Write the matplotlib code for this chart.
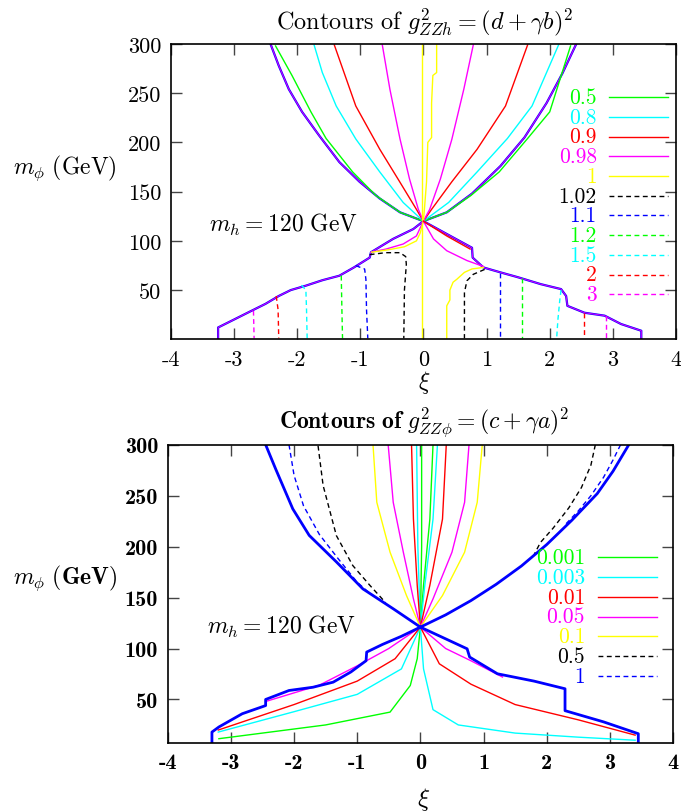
import matplotlib
matplotlib.use("Agg")
import matplotlib.pyplot as plt

plt.rcParams['mathtext.fontset'] = 'cm'
plt.rcParams['axes.unicode_minus'] = False

GREEN, CYAN, RED, MAG, YEL, BLK, BLU = '#00ff00', '#00ffff', '#ff0000', '#ff00ff', '#ffff00', '#000000', '#0000ff'

# ---------------- top panel: contours of g^2_ZZh ----------------
top_levels = ['0.5', '0.8', '0.9', '0.98', '1', '1.02', '1.1', '1.2', '1.5', '2', '3']
top_colors = [GREEN, CYAN, RED, MAG, YEL, BLK, BLU, GREEN, CYAN, RED, MAG]
top_dashed = [False, False, False, False, False, True, True, True, True, True, True]

# boundary of allowed region
tb_ul_xi = [-2.42, -2.29, -2.13, -1.92, -1.65, -1.33, -1.01, -0.69, -0.37, 0.0]
tb_ul_m = [300, 278, 254, 231, 207, 180, 160, 143, 129, 120]
tb_ur_xi = [0.0, 0.37, 0.77, 1.22, 1.6, 1.95, 2.2, 2.42]
tb_ur_m = [120, 129, 148, 176, 205, 240, 270, 300]
tb_ll_xi = [0.0, -0.16, -0.48, -0.83, -0.85, -1.1, -1.33, -1.6, -1.86, -2.1, -2.29, -2.5, -2.77, -3.0, -3.25, -3.25]
tb_ll_m = [120, 112, 102, 88.4, 83, 73, 64.6, 60, 54.5, 50, 44, 36, 27.4, 20, 12, 1]
tb_lr_xi = [0.0, 0.37, 0.77, 0.78, 0.95, 1.22, 1.5, 1.86, 2.18, 2.26, 2.28, 2.55, 2.87, 3.13, 3.45, 3.45]
tb_lr_m = [120, 107, 93, 83, 73, 68, 63, 56, 51, 44, 34, 27, 24, 15.5, 8.7, 1]

# solid contours, upper region
t05_l_xi = [-2.34, -2.08, -1.78, -1.54, -1.12, -0.75, -0.37, 0.0]
t05_l_m = [298, 268, 231, 204, 170, 146, 129, 120]
t05_r_xi = [0.0, 0.37, 0.75, 1.2, 1.65, 2.0, 2.33]
t05_r_m = [120, 129, 146, 170, 204, 231, 298]
t08_l_xi = [-1.73, -1.60, -1.38, -1.07, -0.69, -0.32, 0.0]
t08_l_m = [299, 271, 237, 203.5, 170, 139, 120]
t08_r_xi = [0.0, 0.4, 0.85, 1.33, 1.72, 2.14]
t08_r_m = [120, 139, 170, 204, 237, 299]
t09_l_xi = [-1.41, -1.07, -0.69, -0.37, -0.11, 0.0]
t09_l_m = [299, 237, 193, 159.5, 132, 120]
t09_r_xi = [0.0, 0.13, 0.45, 0.85, 1.3, 1.65]
t09_r_m = [120, 132, 160, 193, 237, 299]
t098_l_xi = [-0.65, -0.53, -0.37, -0.22, -0.08, 0.0]
t098_l_m = [299, 254, 203.5, 163, 132, 120]
t098_r_xi = [0.0, 0.1, 0.27, 0.45, 0.64, 0.79]
t098_r_m = [120, 132, 163, 203, 254, 299]
t1_c_xi = [-0.02, -0.02]
t1_c_m = [1, 300]
t1_r_xi = [0.21, 0.21, 0.15, 0.13, 0.13, 0.07, 0.05, 0.02, 0.0]
t1_r_m = [300, 271, 268, 240, 205, 200, 160, 135, 120]

# solid contours, lower region near the crossing
t098_ll_xi = [0.0, -0.11, -0.32, -0.59, -0.83]
t098_ll_m = [120, 105, 96.8, 91.7, 88.4]
t1_ll_xi = [0.0, -0.05, -0.11, -0.3, -0.55, -0.82]
t1_ll_m = [120, 108, 100, 94, 91, 88.5]
t098_lr_xi = [0.0, 0.16, 0.37, 0.69, 0.95]
t098_lr_m = [120, 102, 90, 80, 74]
t09_lr_xi = [0.0, 0.37, 0.74]
t09_lr_m = [120, 105, 91.7]
t1_lr_xi = [0.37, 0.37, 0.42, 0.42, 0.47, 0.53, 0.65, 0.77, 0.95]
t1_lr_m = [1, 34, 40, 50, 58, 61, 68, 71.5, 73]

# dashed contours, lower region
t102_l_xi = [-0.85, -0.6, -0.37, -0.28, -0.27, -0.30, -0.31]
t102_l_m = [86, 88, 88, 84, 76, 50, 1]
t102_r_xi = [0.97, 0.79, 0.69, 0.65, 0.65]
t102_r_m = [71, 66, 59.5, 47.7, 1]
t11_l_xi = [-1.07, -0.93, -0.91, -0.9, -0.88]
t11_l_m = [74.8, 71.4, 61, 30, 1]
t11_r_xi = [1.21, 1.21]
t11_r_m = [67, 1]
t12_l_xi = [-1.30, -1.29, -1.28]
t12_l_m = [64.6, 30, 1]
t12_r_xi = [1.56, 1.56]
t12_r_m = [62, 1]
t15_l_xi = [-1.93, -1.86, -1.85, -1.84]
t15_l_m = [55, 50, 30, 1]
t15_r_xi = [2.18, 2.16, 2.13, 2.11]
t15_r_m = [50, 40, 20, 1]
t2_l_xi = [-2.33, -2.30, -2.29]
t2_l_m = [44, 30, 1]
t2_r_xi = [2.55, 2.55]
t2_r_m = [27, 1]
t3_l_xi = [-2.69, -2.68]
t3_l_m = [29, 1]
t3_r_xi = [2.89, 2.89]
t3_r_m = [24, 1]

# ---------------- bottom panel: contours of g^2_ZZphi ----------------
bot_levels = ['0.001', '0.003', '0.01', '0.05', '0.1', '0.5', '1']
bot_colors = [GREEN, CYAN, RED, MAG, YEL, BLK, BLU]
bot_dashed = [False, False, False, False, False, True, True]

bb_ul_xi = [-2.45, -2.29, -2.02, -1.76, -1.33, -0.91, -0.43, 0.0]
bb_ul_m = [300, 276, 237, 211, 185, 158.5, 139, 121]
bb_ur_xi = [0.0, 0.4, 0.8, 1.2, 1.6, 2.0, 2.4, 2.8, 3.05, 3.3]
bb_ur_m = [121, 133, 147, 163, 181, 202, 226, 252, 274, 300]
bb_ll_xi = [0.0, -0.3, -0.6, -0.85, -0.86, -1.1, -1.38, -1.7, -2.08, -2.45, -2.45, -2.82, -3.19, -3.3, -3.3]
bb_ll_m = [121, 112, 104, 96.5, 88, 77, 67, 62, 58.8, 50, 44, 36, 23, 18, 7]
bb_lr_xi = [0.0, 0.74, 0.78, 1.22, 1.8, 2.29, 2.29, 2.9, 3.45, 3.45]
bb_lr_m = [121, 99.7, 91.6, 75.2, 68, 60.5, 39, 28, 16.4, 7]

b1_l_xi = [-2.08, -2.0, -1.85, -1.6, -1.3, -1.0, -0.8]
b1_l_m = [300, 270, 240, 212, 188, 165, 154]
b1_r_xi = [3.17, 3.05, 2.9, 2.7, 2.5, 2.3]
b1_r_m = [300, 285, 268, 250, 235, 222]
b05_l_xi = [-1.62, -1.54, -1.33, -1.07, -0.80, -0.55]
b05_l_m = [299, 260, 210.8, 181.4, 162, 145]
b05_r_xi = [2.77, 2.7, 2.55, 2.35, 2.1, 1.9, 1.8]
b05_r_m = [300, 280, 258, 238, 218, 204, 192]
b01_l_xi = [-0.75, -0.69, -0.48, -0.22, 0.0]
b01_l_m = [300, 243.5, 194.5, 152, 121]
b01_r_xi = [0.98, 0.9, 0.7, 0.35, 0.0]
b01_r_m = [300, 243.5, 194.5, 152, 121]
b005_l_xi = [-0.51, -0.43, -0.27, -0.11, 0.0]
b005_l_m = [300, 243.5, 194.5, 148.7, 121]
b005_r_xi = [0.77, 0.7, 0.5, 0.2, 0.0]
b005_r_m = [300, 243.5, 194.5, 148.7, 121]
b001_l_xi = [-0.14, -0.11, -0.05, 0.0]
b001_l_m = [300, 227, 162, 121]
b001_r_xi = [0.41, 0.35, 0.15, 0.0]
b001_r_m = [300, 227, 162, 121]
b0003_l_xi = [-0.06, -0.04, 0.0]
b0003_l_m = [300, 200, 121]
b0003_r_xi = [0.27, 0.2, 0.07, 0.0]
b0003_r_m = [300, 227, 162, 121]
b0001_l_xi = [0.02, 0.02, 0.0]
b0001_l_m = [300, 200, 121]
b0001_r_xi = [0.2, 0.15, 0.05, 0.0]
b0001_r_m = [300, 227, 162, 121]

# lower region
b0001_ll_xi = [0.0, -0.05, -0.16, -0.48, -1.5, -3.19]
b0001_ll_m = [121, 90, 63.7, 37.6, 25, 11.5]
b0003_ll_xi = [0.0, -0.3, -1.0, -2.0, -3.2]
b0003_ll_m = [121, 80, 55, 38, 18]
b001_ll_xi = [0.0, -0.4, -1.0, -2.0, -3.2]
b001_ll_m = [121, 90, 68, 45, 20]
b005_ll_xi = [0.0, -0.5, -1.0, -1.6, -2.45]
b005_ll_m = [121, 100, 83, 64, 48]
b0003_lr_xi = [0.0, 0.05, 0.2, 0.6, 1.5, 2.5, 3.4]
b0003_lr_m = [121, 80, 40, 25, 17, 13, 10]
b001_lr_xi = [0.0, 0.3, 0.8, 1.5, 2.5, 3.4]
b001_lr_m = [121, 85, 65, 45, 30, 15]
b005_lr_xi = [0.0, 0.4, 0.8, 1.3]
b005_lr_m = [121, 100, 88, 72]


def draw(ax, xs, ms, color, dashed=False, lw=1.0):
    if dashed:
        ax.plot(xs, ms, color=color, lw=lw, dashes=(3.5, 2.5))
    else:
        ax.plot(xs, ms, color=color, lw=lw)


def style_axes(ax, fontname, ymin):
    ax.set_xlim(-4, 4)
    ax.set_ylim(ymin, 300)
    ax.set_xticks(range(-4, 5))
    ax.set_xticklabels([str(v) for v in range(-4, 5)], fontname=fontname, fontsize=16)
    ax.set_yticks([50, 100, 150, 200, 250, 300])
    ax.set_yticklabels(['50', '100', '150', '200', '250', '300'], fontname=fontname, fontsize=16)
    ax.tick_params(direction='in', length=8, width=1.0, top=True, right=True, color='#444444', pad=7)
    for s in ax.spines.values():
        s.set_linewidth(1.2)


fig = plt.figure(figsize=(6.81, 8.12), dpi=100)

# ---- top panel ----
ax1 = fig.add_axes([0.2507, 0.5809, 0.742, 0.3637])
for xs, ms in [(tb_ul_xi, tb_ul_m), (tb_ur_xi, tb_ur_m), (tb_ll_xi, tb_ll_m), (tb_lr_xi, tb_lr_m)]:
    ax1.plot(xs, ms, color=BLU, lw=1.6)
    ax1.plot(xs, ms, color=MAG, lw=0.8, alpha=0.8)

for xs, ms, c in [(t05_l_xi, t05_l_m, GREEN), (t05_r_xi, t05_r_m, GREEN),
                  (t08_l_xi, t08_l_m, CYAN), (t08_r_xi, t08_r_m, CYAN),
                  (t09_l_xi, t09_l_m, RED), (t09_r_xi, t09_r_m, RED),
                  (t098_l_xi, t098_l_m, MAG), (t098_r_xi, t098_r_m, MAG),
                  (t1_c_xi, t1_c_m, YEL), (t1_r_xi, t1_r_m, YEL),
                  (t098_ll_xi, t098_ll_m, MAG), (t1_ll_xi, t1_ll_m, YEL),
                  (t098_lr_xi, t098_lr_m, MAG), (t09_lr_xi, t09_lr_m, RED),
                  (t1_lr_xi, t1_lr_m, YEL)]:
    draw(ax1, xs, ms, c)

for xs, ms, c in [(t102_l_xi, t102_l_m, BLK), (t102_r_xi, t102_r_m, BLK),
                  (t11_l_xi, t11_l_m, BLU), (t11_r_xi, t11_r_m, BLU),
                  (t12_l_xi, t12_l_m, GREEN), (t12_r_xi, t12_r_m, GREEN),
                  (t15_l_xi, t15_l_m, CYAN), (t15_r_xi, t15_r_m, CYAN),
                  (t2_l_xi, t2_l_m, RED), (t2_r_xi, t2_r_m, RED),
                  (t3_l_xi, t3_l_m, MAG), (t3_r_xi, t3_r_m, MAG)]:
    draw(ax1, xs, ms, c, dashed=True)

style_axes(ax1, 'cmr10', 0)

for i, (lab, c, d) in enumerate(zip(top_levels, top_colors, top_dashed)):
    yy = 0.8195 - i * 0.0667
    ax1.text(0.843, yy, lab, transform=ax1.transAxes, ha='right', va='center',
             color=c, fontsize=15.5, fontname='cmr10')
    ax1.plot([0.8674, 0.9836], [yy, yy], transform=ax1.transAxes, color=c, lw=1.0,
             dashes=(3.5, 2.5) if d else (None, None))

ax1.text(0.076, 0.39, r'$m_h = 120\ \mathrm{GeV}$', transform=ax1.transAxes,
         ha='left', va='center', fontsize=17)
fig.text(425 / 681, 1 - 22 / 812, r'$\mathrm{Contours\ of\ }g^2_{ZZh} = (d + \gamma b)^2$',
         ha='center', va='center', fontsize=17.5)
fig.text(65 / 681, 1 - 168 / 812, r'$m_\phi\ \mathrm{(GeV)}$', ha='center', va='center', fontsize=17)
fig.text(424 / 681, 1 - 383 / 812, r'$\xi$', ha='center', va='center', fontsize=17)

# ---- bottom panel ----
ax2 = fig.add_axes([0.2463, 0.0834, 0.742, 0.3677])
for xs, ms, c in [(b0001_l_xi, b0001_l_m, GREEN), (b0001_r_xi, b0001_r_m, GREEN),
                  (b0003_l_xi, b0003_l_m, CYAN), (b0003_r_xi, b0003_r_m, CYAN),
                  (b001_l_xi, b001_l_m, RED), (b001_r_xi, b001_r_m, RED),
                  (b005_l_xi, b005_l_m, MAG), (b005_r_xi, b005_r_m, MAG),
                  (b01_l_xi, b01_l_m, YEL), (b01_r_xi, b01_r_m, YEL),
                  (b0001_ll_xi, b0001_ll_m, GREEN), (b0003_ll_xi, b0003_ll_m, CYAN),
                  (b001_ll_xi, b001_ll_m, RED), (b005_ll_xi, b005_ll_m, MAG),
                  (b0003_lr_xi, b0003_lr_m, CYAN), (b001_lr_xi, b001_lr_m, RED),
                  (b005_lr_xi, b005_lr_m, MAG)]:
    draw(ax2, xs, ms, c)
for xs, ms, c in [(b05_l_xi, b05_l_m, BLK), (b05_r_xi, b05_r_m, BLK),
                  (b1_l_xi, b1_l_m, BLU), (b1_r_xi, b1_r_m, BLU)]:
    draw(ax2, xs, ms, c, dashed=True)
for xs, ms in [(bb_ul_xi, bb_ul_m), (bb_ur_xi, bb_ur_m), (bb_ll_xi, bb_ll_m), (bb_lr_xi, bb_lr_m)]:
    ax2.plot(xs, ms, color=BLU, lw=2.0)

style_axes(ax2, 'cmb10', 7)

for i, (lab, c, d) in enumerate(zip(bot_levels, bot_colors, bot_dashed)):
    yy = 0.623 - i * 0.0663
    ax2.text(0.826, yy, lab, transform=ax2.transAxes, ha='right', va='center',
             color=c, fontsize=15.5, fontname='cmr10')
    ax2.plot([0.851, 0.969], [yy, yy], transform=ax2.transAxes, color=c, lw=1.0,
             dashes=(3.5, 2.5) if d else (None, None))

ax2.text(0.077, 0.394, r'$m_h = 120\ \mathrm{GeV}$', transform=ax2.transAxes,
         ha='left', va='center', fontsize=17)
fig.text(424 / 681, 1 - 422 / 812, r'$\mathbf{Contours\ of\ }g^2_{ZZ\phi} = (c + \gamma a)^2$',
         ha='center', va='center', fontsize=17)
fig.text(65 / 681, 1 - 578 / 812, r'$m_\phi\ \mathbf{(GeV)}$', ha='center', va='center', fontsize=17)
fig.text(424 / 681, 1 - 800 / 812, r'$\xi$', ha='center', va='center', fontsize=18)

fig.savefig('out.png', dpi=100)
